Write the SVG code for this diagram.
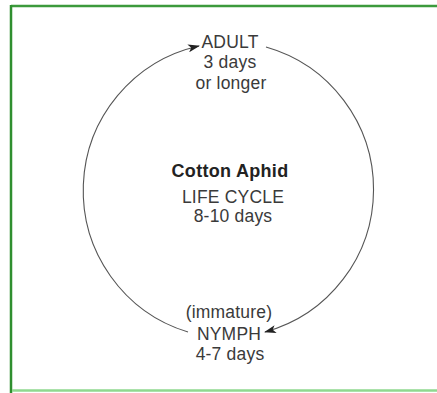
<svg xmlns="http://www.w3.org/2000/svg" width="437" height="393" viewBox="0 0 437 393">
<defs>
<style>
.t{font-family:"Liberation Sans",Arial,sans-serif;font-size:17.5px;fill:#3a3a3a;text-anchor:middle;letter-spacing:0.2px}
.b{font-weight:bold;fill:#222;font-size:18px;letter-spacing:0.3px}
.arc{fill:none;stroke:#555;stroke-width:1.1}
</style>
<marker id="ah" viewBox="0 0 12 8" refX="11" refY="4" markerWidth="12" markerHeight="8" markerUnits="userSpaceOnUse" orient="auto">
<path d="M0,0 L12,4 L0,8 L3,4 Z" fill="#222"/>
</marker>
</defs>
<rect x="0" y="0" width="437" height="393" fill="#fff"/>
<g id="frame">
<line x1="11" y1="6" x2="437" y2="6" stroke="#3c9a3c" stroke-width="2.5"/>
<line x1="11" y1="5" x2="11" y2="393" stroke="#2f8f2f" stroke-width="2.5"/>
<line x1="12" y1="390.5" x2="437" y2="390.5" stroke="#8fd88f" stroke-width="2.5"/>
</g>
<g id="connectors">
<path class="arc" d="M188,332 A148,148 0 0 1 199,46" marker-end="url(#ah)"/>
<path class="arc" d="M266,47 A148,148 0 0 1 265,332" marker-end="url(#ah)"/>
</g>
<g id="adult">
<text class="t" x="230" y="48">ADULT</text>
<text class="t" x="230" y="68">3 days</text>
<text class="t" x="231" y="89">or longer</text>
</g>
<g id="center">
<text class="t b" x="230" y="177">Cotton Aphid</text>
<text class="t" x="233" y="203">LIFE CYCLE</text>
<text class="t" x="233" y="222">8-10 days</text>
</g>
<g id="nymph">
<text class="t" x="229" y="318">(immature)</text>
<text class="t" x="229" y="340">NYMPH</text>
<text class="t" x="230" y="360">4-7 days</text>
</g>
</svg>
